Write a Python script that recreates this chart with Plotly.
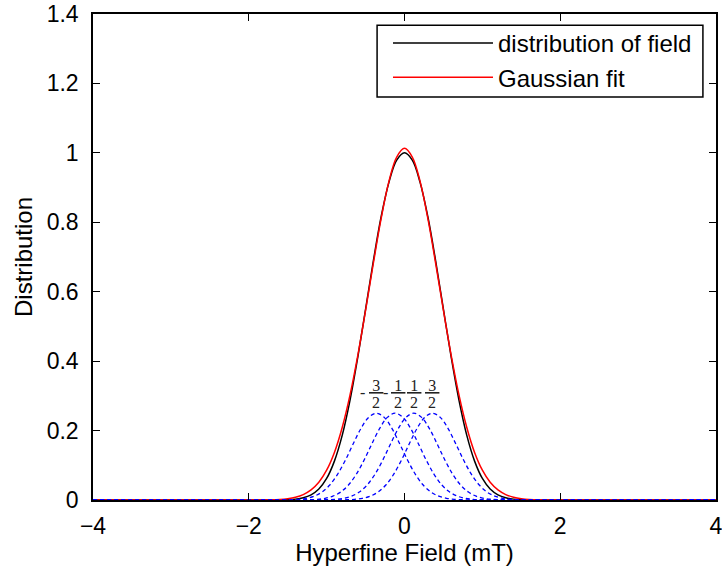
import plotly.graph_objects as go

# ---- data ----
field_x = [-4.0, -2.0, -1.6, -1.5, -1.4, -1.3, -1.2, -1.1, -1.0, -0.9, -0.8, -0.7, -0.6,
           -0.5, -0.4, -0.3, -0.2, -0.1, 0.0, 0.1, 0.2, 0.3, 0.4, 0.5, 0.6, 0.7, 0.8, 0.9,
           1.0, 1.1, 1.2, 1.3, 1.4, 1.5, 1.6, 2.0, 4.0]
distribution = [0.0, 0.0, 0.0003, 0.0009, 0.0025, 0.0064, 0.0149, 0.0317, 0.062, 0.112, 0.186,
                0.287, 0.411, 0.549, 0.689, 0.816, 0.915, 0.979, 1.000, 0.979, 0.915, 0.816,
                0.689, 0.549, 0.411, 0.287, 0.186, 0.112, 0.062, 0.0317, 0.0149, 0.0064,
                0.0025, 0.0009, 0.0003, 0.0, 0.0]
gaussian_fit = [0.0, 0.0, 0.0018, 0.0039, 0.008, 0.0156, 0.029, 0.051, 0.0858, 0.137, 0.209,
                0.302, 0.416, 0.546, 0.682, 0.811, 0.918, 0.988, 1.013, 0.988, 0.918, 0.811,
                0.682, 0.546, 0.416, 0.302, 0.209, 0.137, 0.0858, 0.051, 0.029, 0.0156,
                0.008, 0.0039, 0.0018, 0.0, 0.0]

component_centers = [-0.36, -0.12, 0.12, 0.36]
component_offsets = [-4.5, -1.2, -1.1, -1.0, -0.9, -0.8, -0.7, -0.6, -0.5, -0.4, -0.3, -0.2,
                     -0.1, 0.0, 0.1, 0.2, 0.3, 0.4, 0.5, 0.6, 0.7, 0.8, 0.9, 1.0, 1.1, 1.2, 4.5]
component_profile = [0.0, 0.0002, 0.0007, 0.0019, 0.0048, 0.011, 0.0228, 0.0431, 0.0738,
                     0.1145, 0.1611, 0.2057, 0.238, 0.25, 0.238, 0.2057, 0.1611, 0.1145,
                     0.0738, 0.0431, 0.0228, 0.011, 0.0048, 0.0019, 0.0007, 0.0002, 0.0]

label_signs = ["-", "-", "", ""]
label_nums = ["3", "1", "1", "3"]
label_den = "2"
label_x = [-0.37, -0.08, 0.126, 0.357]
label_y = 0.307

fig = go.Figure()

fig.add_trace(go.Scatter(x=field_x, y=distribution, mode="lines", name="distribution of field",
                         line=dict(color="black", width=1.5, shape="spline", smoothing=1.0)))
fig.add_trace(go.Scatter(x=field_x, y=gaussian_fit, mode="lines", name="Gaussian fit",
                         line=dict(color="#ff0000", width=1.5, shape="spline", smoothing=1.0)))

for c in component_centers:
    xs = [min(max(c + o, -4), 4) for o in component_offsets]
    fig.add_trace(go.Scatter(x=xs, y=component_profile, mode="lines", showlegend=False,
                             line=dict(color="#0000ff", width=1.3, dash="4px,3px",
                                       shape="spline", smoothing=1.0)))

serif = "Liberation Serif"
frac_font = dict(family=serif, size=16, color="#222")
for s, n, lx in zip(label_signs, label_nums, label_x):
    fig.add_annotation(x=lx, y=label_y, text="<u>&#8201;" + n + "&#8201;</u>",
                       showarrow=False, font=frac_font, xanchor="center", yanchor="middle",
                       yshift=8)
    fig.add_annotation(x=lx, y=label_y, text=label_den, showarrow=False, font=frac_font,
                       xanchor="center", yanchor="middle", yshift=-9)
    if s:
        fig.add_annotation(x=lx, y=label_y, text=s, showarrow=False, xshift=-13, yshift=1,
                           font=frac_font, xanchor="center", yanchor="middle")

sans = "Liberation Sans"
axis_common = dict(showline=True, linecolor="black", linewidth=1.5, mirror="ticks",
                   ticks="inside", ticklen=7, tickcolor="black", tickwidth=1,
                   showgrid=False, zeroline=False, automargin=False,
                   ticklabeloverflow="allow",
                   tickfont=dict(family=sans, size=23, color="black"))

fig.update_xaxes(range=[-4, 4], tickvals=[-4, -2, 0, 2, 4], ticklabelstandoff=5,
                 title=dict(text="Hyperfine Field (mT)", standoff=4,
                            font=dict(family=sans, size=24, color="black")),
                 **axis_common)
fig.update_yaxes(range=[0, 1.4], tickvals=[0, 0.2, 0.4, 0.6, 0.8, 1.0, 1.2, 1.4],
                 ticklabelstandoff=8,
                 title=dict(text="Distribution", standoff=7,
                            font=dict(family=sans, size=24, color="black")),
                 **axis_common)

# legend frame
fig.add_shape(type="rect", xref="paper", yref="paper", x0=0.456, x1=0.979, y0=0.829, y1=0.977,
              line=dict(color="black", width=1.5), fillcolor="white", layer="above")

fig.update_layout(
    width=722, height=571,
    margin=dict(l=93, r=6, t=14, b=71),
    plot_bgcolor="white", paper_bgcolor="white",
    legend=dict(x=0.4735, y=0.9856, xanchor="left", yanchor="top",
                borderwidth=0, bgcolor="rgba(0,0,0,0)",
                font=dict(family=sans, size=24, color="black"),
                itemwidth=100, tracegroupgap=0),
)

fig.write_html("out.html", config={"displayModeBar": False},
               post_script="document.body.style.margin='0';document.body.style.overflow='hidden';")
